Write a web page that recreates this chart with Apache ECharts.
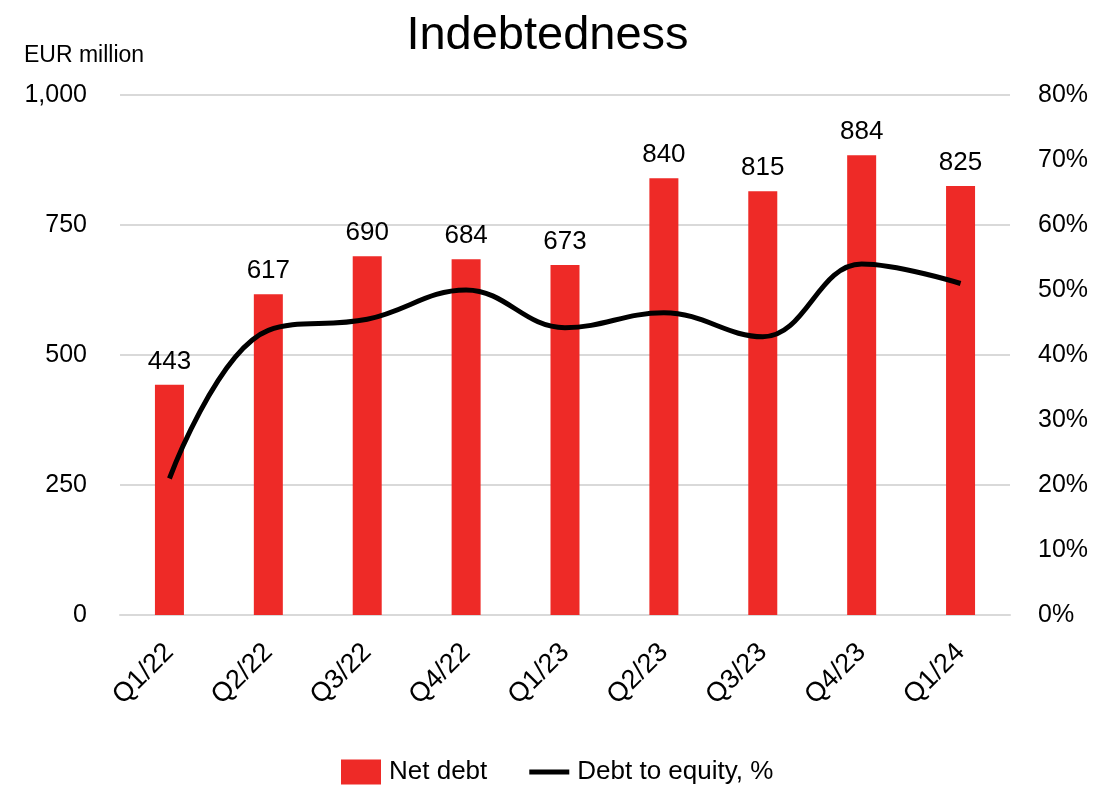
<!DOCTYPE html>
<html><head><meta charset="utf-8">
<script src="https://cdn.jsdelivr.net/npm/echarts@6/dist/echarts.min.js"></script>
<style>html,body{margin:0;padding:0;background:#fff}#c{width:1095px;height:787px}</style>
</head><body><div id="c"></div>
<script>
const categories = ['Q1/22','Q2/22','Q3/22','Q4/22','Q1/23','Q2/23','Q3/23','Q4/23','Q1/24'];
const netDebt = [443,617,690,684,673,840,815,884,825];
const debtToEquity = [21,43.8,45.5,50,44.2,46.5,42.8,54,51];
const leftTicks = [0,250,500,750,1000];
const rightTicks = [0,10,20,30,40,50,60,70,80];

const font = 'Liberation Sans, Arial, sans-serif';
const chart = echarts.init(document.getElementById('c'));
chart.setOption({
  animation:false,
  title:[
    {text:'Indebtedness',left:'center',top:8,textStyle:{fontFamily:font,fontSize:47,fontWeight:'normal',color:'#000'}},
    {text:'EUR million',left:19,top:39,textStyle:{fontFamily:font,fontSize:23,fontWeight:'normal',color:'#000'}}
  ],
  grid:{left:120,right:85,top:95,bottom:172},
  legend:{bottom:-3,left:336,itemGap:42,itemWidth:40,itemHeight:25,
    textStyle:{fontFamily:font,fontSize:26,color:'#000',padding:[0,0,0,3]},
    data:[{name:'Net debt',icon:'rect'},{name:'Debt to equity, %',icon:'path://M0,10 L40,10 L40,15 L0,15 Z'}]},
  xAxis:{type:'category',data:categories,axisTick:{show:false},
    axisLine:{lineStyle:{color:'#d9d9d9',width:2}},
    axisLabel:{rotate:45,fontFamily:font,fontSize:27,color:'#000',margin:33,interval:0}},
  yAxis:[
    {type:'value',min:0,max:1000,interval:250,
     axisLabel:{fontFamily:font,fontSize:25,color:'#000',margin:33,formatter:v=>v.toLocaleString('en-US')},
     splitLine:{lineStyle:{color:'#d9d9d9',width:2}},axisLine:{show:false},axisTick:{show:false}},
    {type:'value',min:0,max:80,interval:10,position:'right',
     axisLabel:{fontFamily:font,fontSize:25,color:'#000',margin:28,formatter:v=>v+'%'},
     splitLine:{show:false},axisLine:{show:false},axisTick:{show:false}}
  ],
  series:[
    {name:'Net debt',type:'bar',data:netDebt,barWidth:29,itemStyle:{color:'#EE2A27'},
     label:{show:true,position:'top',distance:10,fontFamily:font,fontSize:26,color:'#000'}},
    {name:'Debt to equity, %',type:'line',yAxisIndex:1,data:debtToEquity,smooth:0.4,symbol:'none',
     lineStyle:{color:'#000',width:5},itemStyle:{color:'#000'}}
  ]
});
</script></body></html>
